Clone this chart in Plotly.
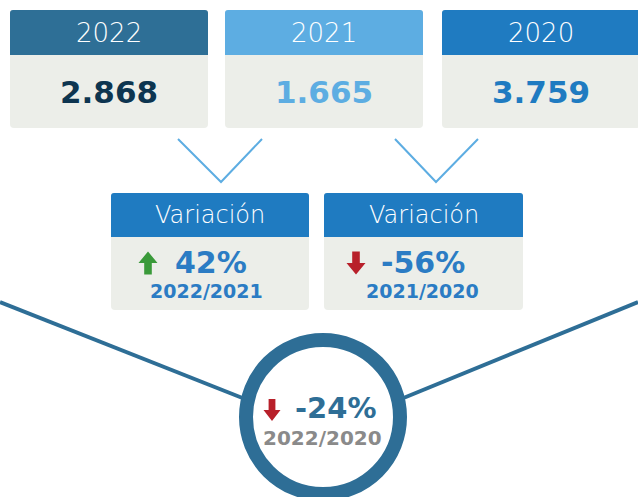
import plotly.graph_objects as go

# ---- data ----
years = ["2022", "2021", "2020"]
values = [2868, 1665, 3759]
variation_pct = [42, -56]
variation_pairs = ["2022/2021", "2021/2020"]
total_pct = -24
total_pair = "2022/2020"

# ---- styles ----
header_colors = ["#2E6F96", "#5DADE2", "#1F7BC1"]
value_colors = ["#0D3550", "#5DADE2", "#1F7BC1"]
body_color = "#ECEEE9"
var_header = "#1F7BC1"
var_text = "#2B7CC4"
ring_color = "#2E6E96"
up_color = "#3A9A3A"
down_color = "#B8202A"
FONT = "DejaVu Sans"

W, H = 638, 497

def fmt(v):
    return f"{v:,}".replace(",", ".")

def rrect(x0, y0, x1, y1, r_top, r_bot):
    # y axis reversed: y0 top, y1 bottom
    p = f"M{x0+r_top},{y0} L{x1-r_top},{y0} Q{x1},{y0} {x1},{y0+r_top} "
    p += f"L{x1},{y1-r_bot} Q{x1},{y1} {x1-r_bot},{y1} L{x0+r_bot},{y1} Q{x0},{y1} {x0},{y1-r_bot} "
    p += f"L{x0},{y0+r_top} Q{x0},{y0} {x0+r_top},{y0} Z"
    return p

def arrow(cx, cy, w, h, up, color):
    sw = w * 0.4
    hh = h * 0.5
    if up:
        top = cy - h / 2
        p = (f"M{cx},{top} L{cx+w/2},{top+hh} L{cx+sw/2},{top+hh} L{cx+sw/2},{cy+h/2} "
             f"L{cx-sw/2},{cy+h/2} L{cx-sw/2},{top+hh} L{cx-w/2},{top+hh} Z")
    else:
        bot = cy + h / 2
        p = (f"M{cx},{bot} L{cx+w/2},{bot-hh} L{cx+sw/2},{bot-hh} L{cx+sw/2},{cy-h/2} "
             f"L{cx-sw/2},{cy-h/2} L{cx-sw/2},{bot-hh} L{cx-w/2},{bot-hh} Z")
    return dict(type="path", path=p, fillcolor=color, line=dict(width=0), layer="above")

shapes = []
annotations = []

def txt(x, y, s, size, color, weight="normal", family=FONT):
    annotations.append(dict(x=x, y=y, xref="x", yref="y", text=s, showarrow=False,
                            xanchor="center", yanchor="middle",
                            font=dict(family=family, size=size, color=color, weight=weight)))

fig = go.Figure()

# ---- connecting lines (below) ----
ccx, ccy, r_out, r_in = 323, 417, 84, 70
for (xa, ya, xb, yb) in [(0, 302, 245, 399), (W, 302, ccx + (ccx - 245), 399)]:
    shapes.append(dict(type="line", x0=xa, y0=ya, x1=xb, y1=yb,
                       line=dict(color=ring_color, width=4), layer="below"))

# ---- top year boxes ----
box_x = [(10, 208), (225, 423), (442, 640)]
for i, (x0, x1) in enumerate(box_x):
    shapes.append(dict(type="path", path=rrect(x0, 10, x1, 128, 3, 4),
                       fillcolor=body_color, line=dict(width=0), layer="below"))
    shapes.append(dict(type="path", path=rrect(x0, 10, x1, 55, 3, 0),
                       fillcolor=header_colors[i], line=dict(width=0), layer="below"))
    cx = (x0 + x1) / 2
    txt(cx, 33, years[i], 26, "white", weight=200)
    txt(cx, 92, fmt(values[i]), 31, value_colors[i], weight="bold")

# ---- chevrons ----
for (a, b, c) in [(178, 221, 262), (395, 436, 478)]:
    shapes.append(dict(type="path", path=f"M{a},139 L{b},182 L{c},139",
                       line=dict(color="#5DADE2", width=2), layer="below"))

# ---- variation boxes ----
var_x = [(111, 309), (324, 523)]
arrow_x = [148, 356]
pct_x = [211, 423]
pair_x = [206, 422]
for i, (x0, x1) in enumerate(var_x):
    shapes.append(dict(type="path", path=rrect(x0, 193, x1, 310, 3, 4),
                       fillcolor=body_color, line=dict(width=0), layer="below"))
    shapes.append(dict(type="path", path=rrect(x0, 193, x1, 237, 3, 0),
                       fillcolor=var_header, line=dict(width=0), layer="below"))
    txt((x0 + x1) / 2, 215, "Variación", 24, "white", weight=200)
    v = variation_pct[i]
    up = v >= 0
    shapes.append(arrow(arrow_x[i], 263, 19, 23, up, up_color if up else down_color))
    txt(pct_x[i], 262, f"{v}%", 30, var_text, weight="bold")
    txt(pair_x[i], 291, variation_pairs[i], 19, var_text, weight="bold")

# ---- ring ----
r_mid = (r_out + r_in) / 2
shapes.append(dict(type="circle", x0=ccx - r_mid, x1=ccx + r_mid, y0=ccy - r_mid, y1=ccy + r_mid,
                   fillcolor="white", line=dict(color=ring_color, width=r_out - r_in), layer="below"))
shapes.append(arrow(272, 410, 17, 22, total_pct >= 0, up_color if total_pct >= 0 else down_color))
txt(335, 408, f"{total_pct}%", 29, ring_color, weight="bold")
txt(322, 438, total_pair, 20, "#8A8A8A", weight="bold")

fig.update_layout(
    width=W, height=H, autosize=False,
    margin=dict(l=0, r=0, t=0, b=0),
    paper_bgcolor="white", plot_bgcolor="white",
    xaxis=dict(range=[0, W], visible=False, fixedrange=True),
    yaxis=dict(range=[H, 0], visible=False, fixedrange=True),
    shapes=shapes, annotations=annotations, showlegend=False,
)
fig.write_html("out.html", config={"displayModeBar": False},
               post_script="document.body.style.margin='0';document.body.style.overflow='hidden';")
